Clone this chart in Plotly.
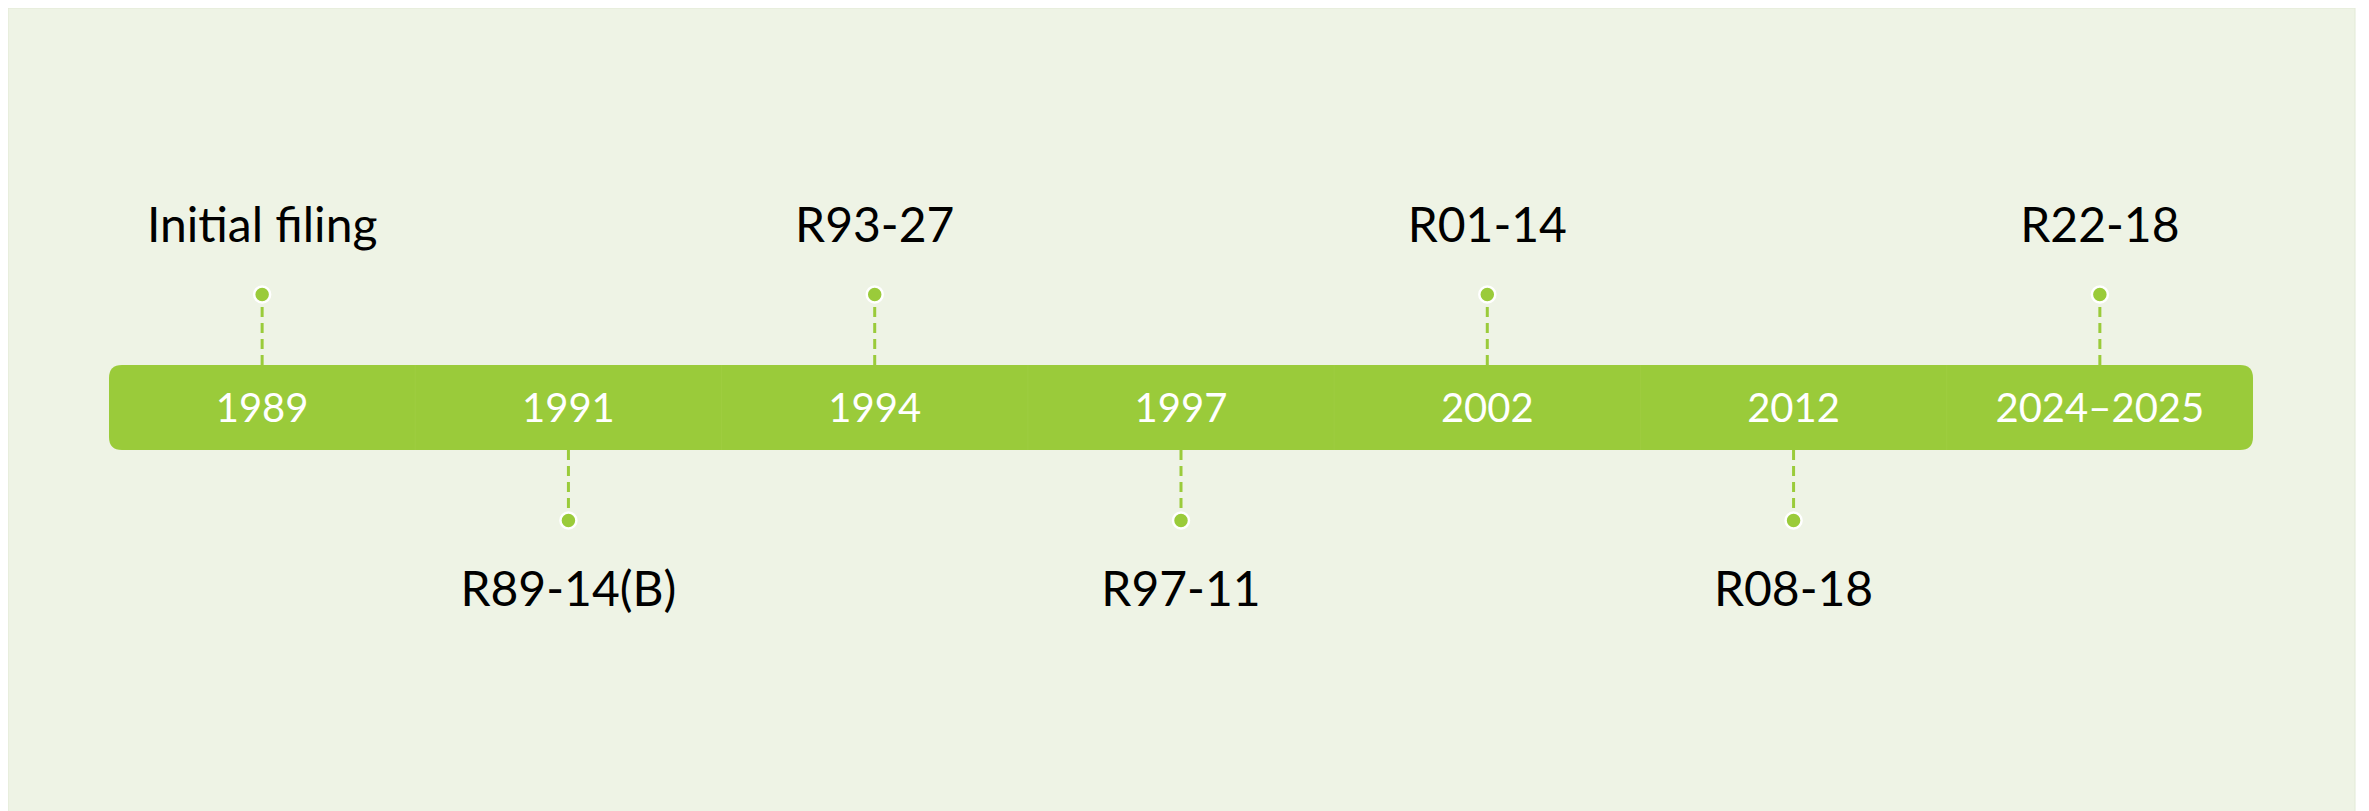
import plotly.graph_objects as go

years = ["1989", "1991", "1994", "1997", "2002", "2012", "2024\u20132025"]
events = ["Initial filing", "R89-14(B)", "R93-27", "R97-11", "R01-14", "R08-18", "R22-18"]
sides = [1, -1, 1, -1, 1, -1, 1]  # 1 = above the bar, -1 = below

GREEN = "#9ACB3A"
SEAM = "#9ECD40"
BG = "#EEF3E5"
W, H = 2369, 811
OFF = 8  # page body margin offset

n = len(years)
idx = list(range(n))

# layout geometry (y in pixel-like units, bar centred at 0)
half_h = 42.5
dot_off = 113
lab_off = 182
text_nudge = -4
x0, x1 = -0.5, n - 0.5
px_per_unit = 306.3
bar_left = 109 - OFF
bar_right = 2253 - OFF
bar_cy = 407.5 - OFF
xr = [x0 - bar_left / px_per_unit, x1 + (W - bar_right) / px_per_unit]
yr = [-(H - bar_cy), bar_cy]

rx = 13 / px_per_unit
ry = 13
path = (
    f"M {x0+rx},{half_h} L {x1-rx},{half_h} Q {x1},{half_h} {x1},{half_h-ry} "
    f"L {x1},{-half_h+ry} Q {x1},{-half_h} {x1-rx},{-half_h} "
    f"L {x0+rx},{-half_h} Q {x0},{-half_h} {x0},{-half_h+ry} "
    f"L {x0},{half_h-ry} Q {x0},{half_h} {x0+rx},{half_h} Z"
)

shapes = [
    dict(type="rect", xref="paper", yref="paper", x0=0, x1=(2355 - OFF) / W, y0=0, y1=1,
         fillcolor=BG, line=dict(color="#E2EAD6", width=1), layer="below"),
    dict(type="path", path=path, fillcolor=GREEN, line=dict(width=0), layer="below"),
]
for i in idx[1:]:
    shapes.append(dict(type="line", x0=i - 0.5, x1=i - 0.5, y0=-half_h, y1=half_h,
                       line=dict(color=SEAM, width=1), layer="below"))

fig = go.Figure()

# dashed connectors
cx, cy = [], []
for i, s in zip(idx, sides):
    cx += [i, i, None]
    cy += [s * half_h, s * dot_off, None]
fig.add_trace(go.Scatter(x=cx, y=cy, mode="lines",
                         line=dict(color=GREEN, width=3, dash="10px,6px"),
                         hoverinfo="skip", showlegend=False))

# dots
fig.add_trace(go.Scatter(x=idx, y=[s * dot_off for s in sides], mode="markers",
                         marker=dict(size=16, color=GREEN, line=dict(color="white", width=2.5)),
                         hoverinfo="skip", showlegend=False))

# year labels on bar
fig.add_trace(go.Scatter(x=idx, y=[text_nudge] * n, mode="text", text=years,
                         textfont=dict(family="Lato", size=40, color="white"),
                         textposition="middle center", hoverinfo="skip", showlegend=False))

# event labels
fig.add_trace(go.Scatter(x=idx, y=[s * lab_off + text_nudge for s in sides], mode="text", text=events,
                         textfont=dict(family="Lato", size=48, color="black"),
                         textposition="middle center", hoverinfo="skip", showlegend=False))

fig.update_layout(
    width=W, height=H,
    margin=dict(l=0, r=0, t=0, b=0),
    paper_bgcolor="white", plot_bgcolor="rgba(0,0,0,0)",
    shapes=shapes,
    xaxis=dict(range=xr, visible=False, fixedrange=True),
    yaxis=dict(range=yr, visible=False, fixedrange=True),
    showlegend=False,
)

fig.write_html("out.html")
